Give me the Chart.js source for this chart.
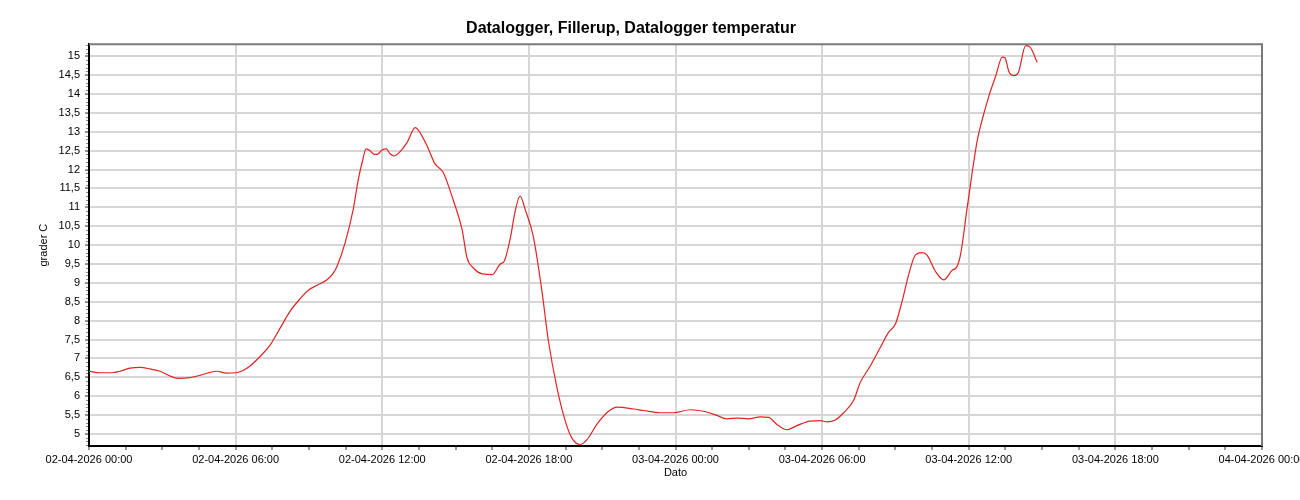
<!DOCTYPE html>
<html>
<head>
<meta charset="utf-8">
<script src="https://cdn.jsdelivr.net/npm/chart.js@4/dist/chart.umd.min.js"></script>
<style>
  html, body { margin: 0; padding: 0; background: #fff; }
  #chart { display: block; }
</style>
</head>
<body>
<canvas id="chart" width="1300" height="500"></canvas>
<script>
// hours since 02-04-2026 00:00
const hours = [
  0, 0.45, 0.94, 1.27, 1.68, 2.09, 2.5, 2.91, 3.23, 3.64, 4.13, 4.54, 4.95, 5.24, 5.61, 6.02,
  6.3, 6.59, 7.0, 7.41, 7.82, 8.23, 8.64, 8.96, 9.37, 9.74, 9.99, 10.15, 10.48, 10.81, 11.01,
  11.18, 11.34, 11.5, 11.67, 11.79, 11.99, 12.16, 12.32, 12.48, 12.69, 13.02, 13.35, 13.47,
  13.84, 14.16, 14.49, 14.9, 15.27, 15.47, 15.72, 16.09, 16.5, 16.83, 16.99, 17.23, 17.44,
  17.64, 17.85, 18.18, 18.53, 18.8, 19.15, 19.49, 19.76, 20.1, 20.38, 20.78, 21.19, 21.61,
  22.29, 22.69, 23.37, 23.92, 24.6, 25.15, 25.69, 26.1, 26.51, 26.99, 27.47, 27.81, 28.15,
  28.56, 28.97, 29.51, 29.92, 30.2, 30.54, 30.88, 31.29, 31.56, 31.97, 32.38, 32.73, 33.0,
  33.28, 33.55, 33.82, 34.1, 34.3, 34.64, 34.98, 35.33, 35.5, 35.67, 35.94, 36.35, 36.55,
  36.82, 37.1, 37.37, 37.48, 37.64, 37.85, 38.03, 38.33, 38.5, 38.8
];
const temperature = [
  6.66, 6.62, 6.62, 6.66, 6.74, 6.76, 6.72, 6.66, 6.56, 6.47, 6.49, 6.55, 6.63, 6.66, 6.61, 6.62,
  6.68, 6.8, 7.05, 7.35, 7.8, 8.25, 8.58, 8.8, 8.95, 9.08, 9.25, 9.44, 10.06, 10.94, 11.7,
  12.2, 12.55, 12.5, 12.4, 12.4, 12.52, 12.55, 12.42, 12.36, 12.45, 12.72, 13.11, 13.05,
  12.62, 12.15, 11.93, 11.2, 10.4, 9.66, 9.4, 9.24, 9.22, 9.5, 9.57, 10.15, 10.9,
  11.3, 10.94, 10.23, 8.8, 7.46, 6.22, 5.34, 4.89, 4.72, 4.85, 5.25, 5.56, 5.71,
  5.66, 5.62, 5.56, 5.56, 5.64, 5.6, 5.49, 5.4, 5.42, 5.4, 5.45, 5.44, 5.25,
  5.11, 5.22, 5.34, 5.35, 5.32, 5.37, 5.56, 5.89, 6.36, 6.8, 7.29, 7.7, 7.91,
  8.53, 9.24, 9.74, 9.8, 9.73, 9.3, 9.08, 9.34, 9.41, 9.77, 11.01, 12.78, 13.32,
  13.94, 14.47, 14.98, 14.96, 14.6, 14.49, 14.57, 15.28, 15.25, 14.84
];
const xRange = [0, 48];
const yRange = [4.68, 15.32];

function hourLabel(h) {
  const day = 2 + Math.floor(h / 24);
  const hh = Math.round(h % 24);
  return String(day).padStart(2, '0') + '-04-2026 ' + String(hh).padStart(2, '0') + ':00';
}

const isMajor = v => Math.abs(v / 6 - Math.round(v / 6)) < 1e-6;

// top/right frame and the small dotted ticks on the value axis
const framePlugin = {
  id: 'frame',
  afterDraw(chart) {
    const { ctx, chartArea } = chart;
    const y = chart.scales.y;
    ctx.save();
    ctx.strokeStyle = '#7a7a7a';
    ctx.lineWidth = 2;
    ctx.beginPath();
    ctx.moveTo(chartArea.left, chartArea.top);
    ctx.lineTo(chartArea.right, chartArea.top);
    ctx.lineTo(chartArea.right, chartArea.bottom);
    ctx.stroke();
    ctx.strokeStyle = '#8a8a8a';
    ctx.lineWidth = 1;
    for (let i = 47; i <= 153; i++) {
      const py = Math.round(y.getPixelForValue(i / 10)) + 0.5;
      ctx.beginPath();
      ctx.moveTo(chartArea.left - 3, py);
      ctx.lineTo(chartArea.left - 1, py);
      ctx.stroke();
    }
    ctx.restore();
  }
};

new Chart(document.getElementById('chart'), {
  type: 'line',
  data: {
    datasets: [{
      label: 'Datalogger temperatur',
      data: hours.map((h, i) => ({ x: h, y: temperature[i] })),
      borderColor: '#e32222',
      borderWidth: 1.2,
      pointRadius: 0,
      cubicInterpolationMode: 'monotone',
      fill: false
    }]
  },
  options: {
    responsive: false,
    animation: false,
    devicePixelRatio: 1,
    layout: { padding: { left: 0, right: 38, top: 0, bottom: 0 } },
    scales: {
      x: {
        type: 'linear',
        min: xRange[0],
        max: xRange[1],
        afterFit(scale) {
          scale.height = 54;
          scale.paddingLeft = 0;
          scale.paddingRight = 0;
        },
        border: { display: true, color: '#000', width: 2 },
        grid: {
          color: c => isMajor(c.tick.value) ? '#d6d6d6' : 'rgba(0,0,0,0)',
          lineWidth: 2,
          tickColor: '#9a9a9a',
          tickLength: 4
        },
        ticks: {
          stepSize: 1.5,
          autoSkip: false,
          maxRotation: 0,
          padding: 3,
          color: '#000',
          font: { family: 'Liberation Sans, Arial', size: 11 },
          callback: v => isMajor(v) ? hourLabel(v) : ''
        },
        title: {
          display: true,
          text: 'Dato',
          color: '#000',
          font: { family: 'Liberation Sans, Arial', size: 11 },
          padding: { top: 0, bottom: 20 }
        }
      },
      y: {
        min: yRange[0],
        max: yRange[1],
        afterFit(scale) {
          scale.width = 89;
          scale.paddingTop = 0;
          scale.paddingBottom = 0;
        },
        afterBuildTicks(scale) {
          scale.ticks = scale.ticks.filter(t =>
            t.value > 4.99 && t.value < 15.01 && Math.abs(t.value * 2 - Math.round(t.value * 2)) < 1e-6);
        },
        border: { display: true, color: '#000', width: 2 },
        grid: {
          color: '#d6d6d6',
          lineWidth: 2,
          tickColor: '#9a9a9a',
          tickLength: 4
        },
        ticks: {
          stepSize: 0.5,
          includeBounds: false,
          autoSkip: false,
          padding: 5,
          color: '#000',
          font: { family: 'Liberation Sans, Arial', size: 11 },
          callback: v => String(Math.round(v * 10) / 10).replace('.', ',')
        },
        title: {
          display: true,
          text: 'grader C',
          color: '#000',
          font: { family: 'Liberation Sans, Arial', size: 11 },
          padding: { top: 37, bottom: 0 }
        }
      }
    },
    plugins: {
      legend: { display: false },
      tooltip: { enabled: false },
      title: {
        display: true,
        text: 'Datalogger, Fillerup, Datalogger temperatur',
        color: '#000',
        font: { family: 'Liberation Sans, Arial', size: 16, weight: 'bold' },
        padding: { top: 19, bottom: 6 }
      }
    }
  },
  plugins: [framePlugin]
});
</script>
</body>
</html>
